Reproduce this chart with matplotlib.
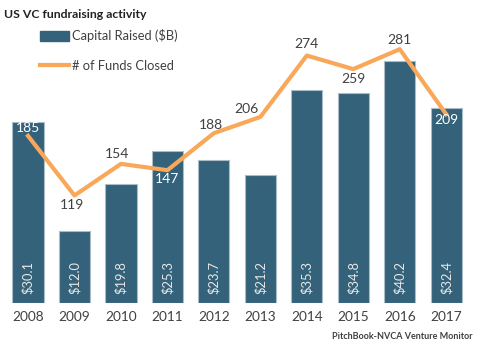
import matplotlib.pyplot as plt
from matplotlib.patches import Patch
from matplotlib.lines import Line2D

plt.rcParams['font.family'] = ['Lato', 'DejaVu Sans']

years = ['2008', '2009', '2010', '2011', '2012', '2013', '2014', '2015', '2016', '2017']
capital = [30.1, 12.0, 19.8, 25.3, 23.7, 21.2, 35.3, 34.8, 40.2, 32.4]
funds = [185, 119, 154, 147, 188, 206, 274, 259, 281, 209]

bar_color = '#34627a'
line_color = '#f9a85a'
text_color = '#404040'

fig = plt.figure(figsize=(4.8, 3.45), dpi=100)
ax = fig.add_axes([0.01, 0.122, 0.968, 0.785])
x = list(range(len(years)))

ax.bar(x, capital, width=0.67, color=bar_color, edgecolor='#a9bcc8', linewidth=0.8, zorder=2)
for i, v in enumerate(capital):
    ax.text(i, 1.5, f'${v:.1f}', rotation=90, ha='center', va='bottom',
            color='#e8e8e8', fontsize=9.3, zorder=5)

ax.set_xlim(-0.5, 9.5)
ax.set_ylim(0, 45)
ax.set_yticks([])
ax.set_xticks(x)
ax.set_xticklabels(years, fontsize=9.8, color=text_color)
ax.tick_params(axis='x', length=0, pad=6)
for s in ax.spines.values():
    s.set_visible(False)

ax2 = ax.twinx()
ax2.plot(x, funds, color=line_color, linewidth=3, zorder=3)
ax2.set_ylim(0, 300)
ax2.set_yticks([])
for s in ax2.spines.values():
    s.set_visible(False)

# label offsets (points) and colours for the line values
offsets = [(0, 6), (-2, -7), (-3, 7), (0, -6), (-2, 6), (-10, 6), (0, 8), (0, -7), (0, 7), (0, -4)]
colors = ['white', text_color, text_color, 'white', text_color, text_color,
          text_color, text_color, text_color, 'white']
for i, v in enumerate(funds):
    dx, dy = offsets[i]
    ax2.annotate(str(v), (i, v), xytext=(dx, dy), textcoords='offset points',
                 ha='center', va='center', fontsize=10, color=colors[i], zorder=6)

handles = [Patch(facecolor=bar_color, edgecolor=bar_color),
           Line2D([0], [0], color=line_color, linewidth=3)]
ax.legend(handles, ['Capital Raised ($B)', '# of Funds Closed'],
          loc='upper left', bbox_to_anchor=(0.051, 1.054), frameon=False,
          fontsize=9.3, labelcolor=text_color, handlelength=2.2, handleheight=0.8,
          handletextpad=0.25, labelspacing=1.35)

fig.text(0.008, 0.975, 'US VC fundraising activity', fontsize=8.8, fontweight='bold',
         color='#222222', ha='left', va='top')
fig.text(0.985, 0.012, 'PitchBook-NVCA Venture Monitor', fontsize=6.5, fontweight='bold',
         color='#404040', ha='right', va='bottom')

fig.savefig('out.png', dpi=100)
